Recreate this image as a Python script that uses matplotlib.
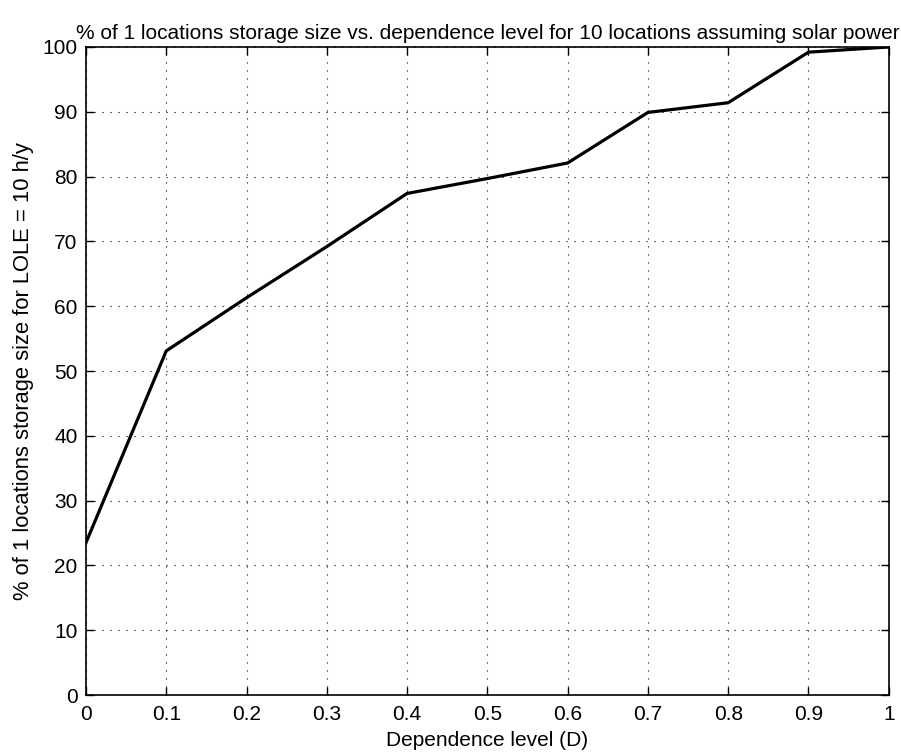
import matplotlib
matplotlib.use("Agg")
import matplotlib.pyplot as plt
import numpy as np

# Dependence level vs. relative storage size
dependence = [0.0, 0.1, 0.2, 0.3, 0.4, 0.5, 0.6, 0.7, 0.8, 0.9, 1.0]
storage_pct = [23.5, 53.1, 61.3, 69.2, 77.4, 79.7, 82.1, 89.9, 91.4, 99.2, 100.0]

xticks = np.arange(0, 1.01, 0.1)
xticklabels = ["0", "0.1", "0.2", "0.3", "0.4", "0.5", "0.6", "0.7", "0.8", "0.9", "1"]
yticks = np.arange(0, 101, 10)

plt.rcParams["font.family"] = ["Liberation Sans", "DejaVu Sans"]
plt.rcParams["font.size"] = 15

fig = plt.figure(figsize=(9.01, 7.53), dpi=100)
ax = fig.add_axes([0.0954, 0.077, 0.891, 0.8606])

ax.plot(dependence, storage_pct, color="black", linewidth=2.3)

ax.set_xlim(0, 1)
ax.set_ylim(0, 100)
ax.set_xticks(xticks)
ax.set_xticklabels(xticklabels)
ax.set_yticks(yticks)
ax.tick_params(direction="in", top=True, right=True, length=5.8, width=1,
               colors="black", labelsize=15)
ax.tick_params(axis="x", pad=7)
ax.tick_params(axis="y", pad=6)
ax.grid(True, linestyle=(0, (1, 6.2)), color="black", linewidth=0.8)
for s in ax.spines.values():
    s.set_linewidth(1.2)

ax.set_xlabel("Dependence level (D)", fontsize=15, labelpad=5)
ax.set_ylabel("% of 1 locations storage size for LOLE = 10 h/y", fontsize=15.8, labelpad=6)
ax.set_title("% of 1 locations storage size vs. dependence level for 10 locations assuming solar power",
             fontsize=15, pad=6)

fig.savefig("out.png", dpi=100)
